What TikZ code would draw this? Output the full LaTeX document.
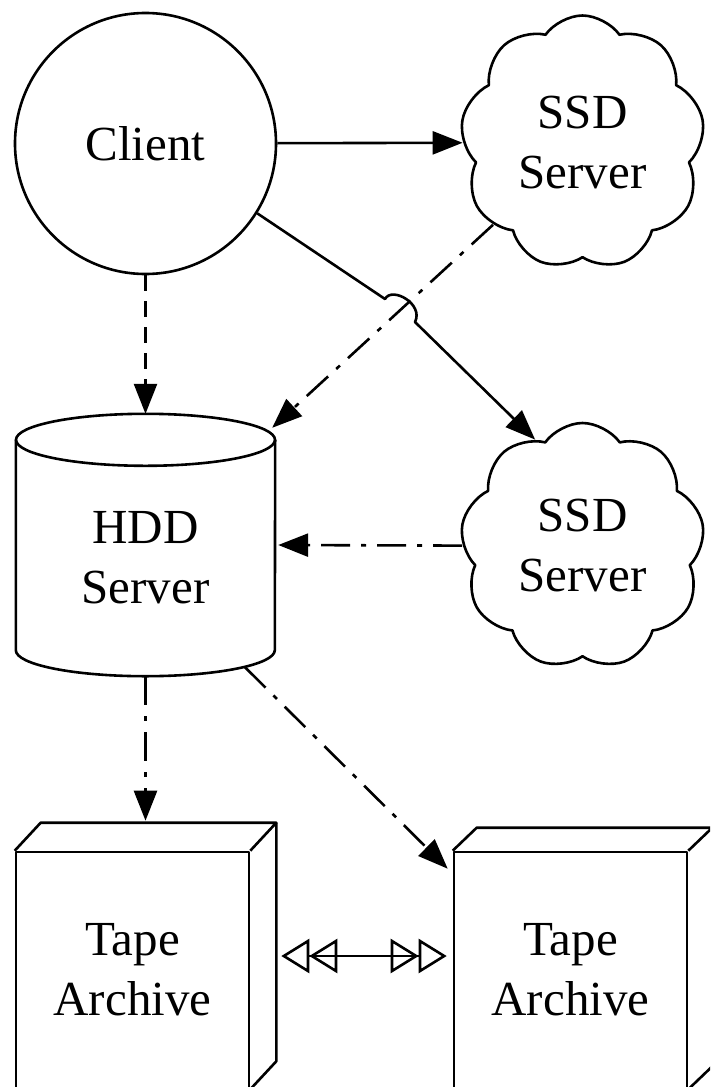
\documentclass[tikz,border=0pt]{standalone}
\usepackage{fontspec}
\setmainfont{Liberation Serif}
\usetikzlibrary{shapes.symbols,arrows.meta,calc}
\begin{document}
\begin{tikzpicture}[x=1pt,y=-1pt,
  every node/.style={font=\fontsize{49}{60}\selectfont, align=center},
  ln/.style={line width=2.6pt, line join=round},
  arr/.style={ln, -{Triangle[length=30pt,width=23pt]}},
  dashln/.style={dash pattern=on 16pt off 10pt},
  dashdot/.style={dash pattern=on 29pt off 11pt on 5pt off 11pt},
  cloudbox/.style={cloud, draw, ln, cloud puffs=9, cloud puff arc=110, cloud ignores aspect,
    minimum width=244pt, minimum height=254pt, inner sep=0pt},
  tapebox/.style={rectangle, draw, ln, minimum width=233pt, minimum height=236pt, inner sep=0pt},
  dblopen/.style={{Triangle[open,length=28pt,width=34pt]Triangle[open,length=28pt,width=34pt]}-{Triangle[open,length=28pt,width=34pt]Triangle[open,length=28pt,width=34pt]}}
]
\clip (0,0) rectangle (710,1087);

% nodes
\node[circle, draw, ln, minimum size=261pt, inner sep=0pt] (client) at (145.5,143.5) {Client};
\node[cloudbox] (ssd1) at (582.5,142.5) {SSD\\Server};
\node[cloudbox, minimum height=246pt] (ssd2) at (582.5,546) {SSD\\Server};
\node[minimum width=259pt, minimum height=262pt, inner sep=0pt,
      label={[yshift=-13pt]center:HDD\\Server}] (hdd) at (145.5,545) {};
\node[tapebox] (tape1) at (132.5,970) {Tape\\Archive};
\node[tapebox] (tape2) at (570.5,970) {Tape\\Archive};

% cylinder outline of HDD server
\draw[ln] ($(hdd.north)+(0,26)$) ellipse [x radius=129.5pt, y radius=26pt];
\draw[ln] ($(hdd.north west)+(0,26)$) -- ($(hdd.south west)+(0,-26)$)
  arc[start angle=180, end angle=360, x radius=129.5pt, y radius=26pt]
  -- ($(hdd.north east)+(0,26)$);

% 3D faces of tape boxes
\draw[ln] (tape1.north west) -- ($(tape1.north west)+(26,-28)$) -- ($(tape1.north east)+(26,-28)$)
  -- (tape1.north east);
\draw[ln] ($(tape1.north east)+(26,-28)$) -- ($(tape1.south east)+(26,-28)$) -- (tape1.south east);
\draw[ln] (tape2.north west) -- ($(tape2.north west)+(24,-23)$) -- ($(tape2.north east)+(24,-23)$)
  -- (tape2.north east);
\draw[ln] ($(tape2.north east)+(24,-23)$) -- ($(tape2.south east)+(24,-23)$) -- (tape2.south east);

% helper coordinates on node borders
\coordinate (hddne) at ($(hdd.north east)+(-3,14)$);
\coordinate (hddse) at ($(hdd.south)+(99.5,-9)$);
\coordinate (tape1top) at ($(tape1.north)+(13,-30)$);
\coordinate (tape2in) at ($(tape2.north west)+(-5,18)$);
\coordinate (hopA) at (385,299);
\coordinate (hopB) at (415,322);

% connectors
\draw[arr] (client) -- (ssd1);
\draw[arr, dashln] (client) -- (hdd.north);
\draw[arr, dashdot] (ssd1) -- (hddne);
\draw[arr] (client.-32) -- (hopA) .. controls (392,286) and (424,304) .. (hopB) -- (ssd2.114);
\draw[arr, dashdot, shorten >=3pt] (ssd2) -- (hdd.east);
\draw[arr, dashdot] (hdd.south) -- (tape1top);
\draw[arr, dashdot] (hddse) -- (tape2in);
\draw[ln, dblopen] ($(tape1.east)+(31,-14)$) -- ($(tape2.west)+(-6,-14)$);
\end{tikzpicture}
\end{document}
